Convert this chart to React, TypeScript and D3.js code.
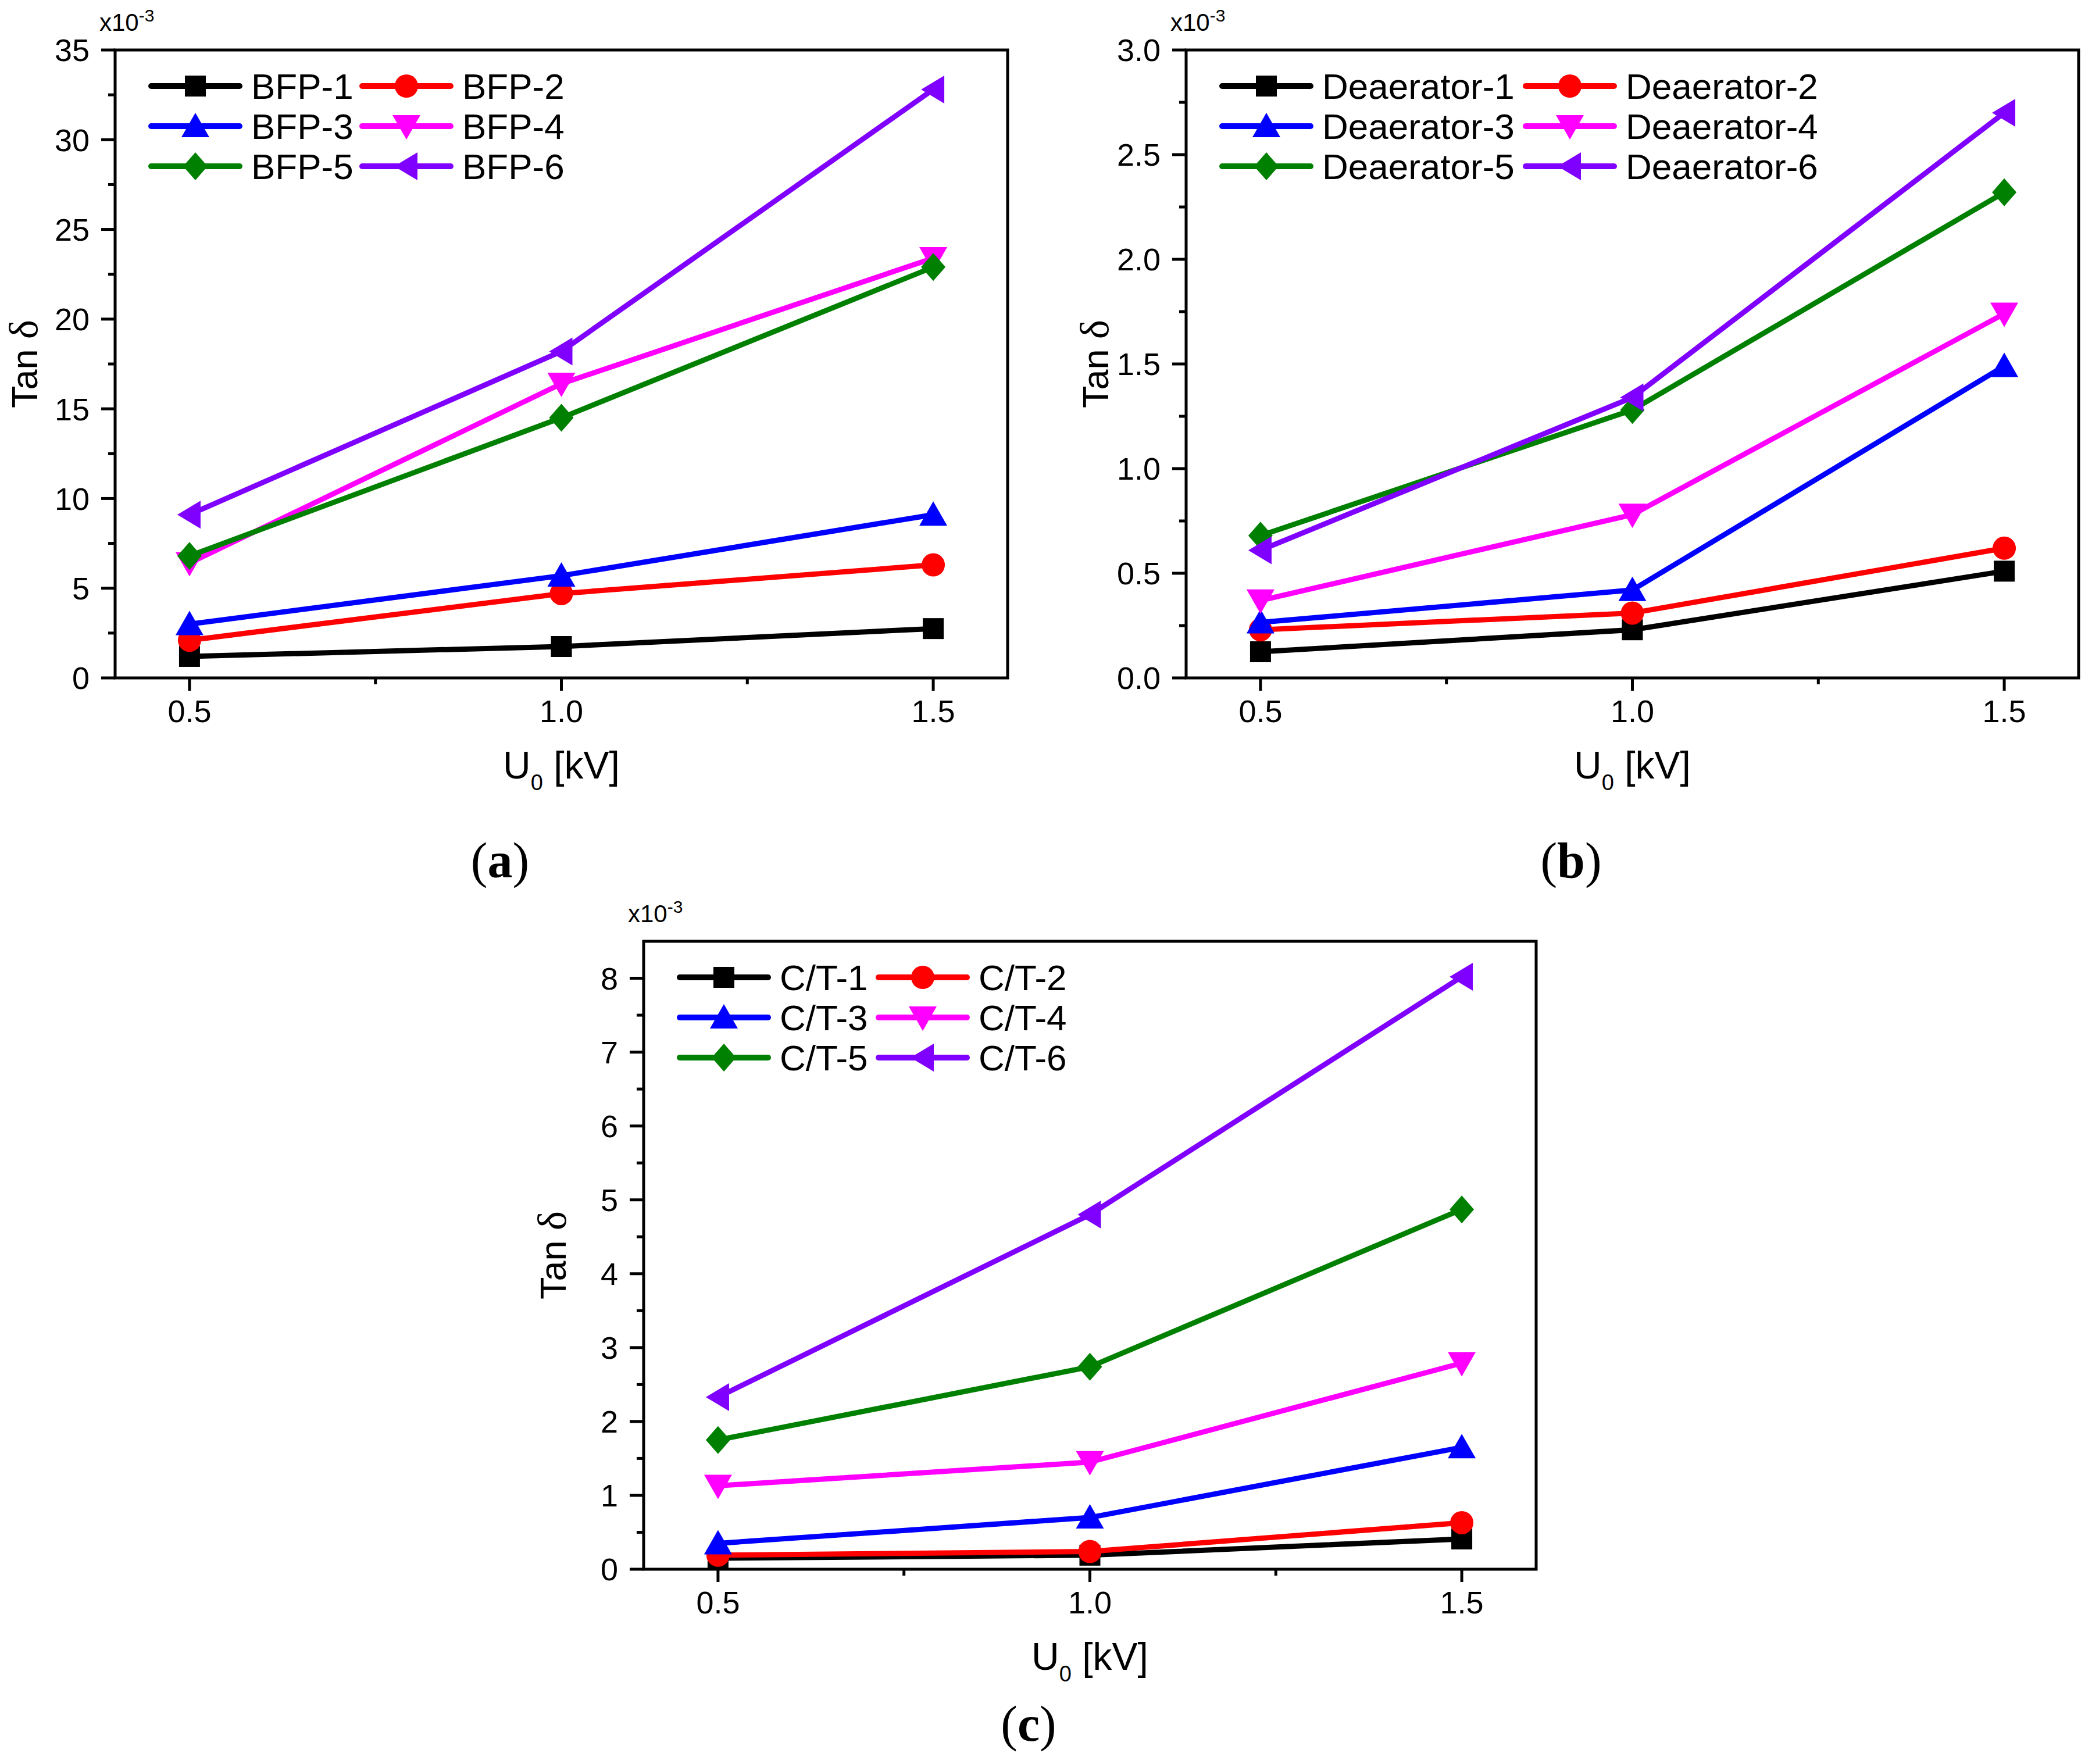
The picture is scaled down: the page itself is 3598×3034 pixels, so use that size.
import * as d3 from 'd3';

// shared x positions (kV)
const xValues = [0.5, 1.0, 1.5];
const xTicks = [0.5, 1.0, 1.5];

// (a) boiler feed pump cables
const bfpLabels = ['BFP-1', 'BFP-2', 'BFP-3', 'BFP-4', 'BFP-5', 'BFP-6'];
const bfpValues = [
    [1.2, 1.75, 2.75],
    [2.1, 4.7, 6.3],
    [3.0, 5.7, 9.1],
    [6.4, 16.4, 23.4],
    [6.8, 14.5, 22.9],
    [9.1, 18.2, 32.8],
];

// (b) deaerator cables
const deaLabels = ['Deaerator-1', 'Deaerator-2', 'Deaerator-3', 'Deaerator-4', 'Deaerator-5', 'Deaerator-6'];
const deaValues = [
    [0.125, 0.23, 0.51],
    [0.23, 0.31, 0.62],
    [0.265, 0.42, 1.49],
    [0.37, 0.78, 1.74],
    [0.68, 1.28, 2.32],
    [0.61, 1.34, 2.70],
];

// (c) C/T cables
const ctLabels = ['C/T-1', 'C/T-2', 'C/T-3', 'C/T-4', 'C/T-5', 'C/T-6'];
const ctValues = [
    [0.15, 0.19, 0.41],
    [0.19, 0.24, 0.63],
    [0.35, 0.70, 1.65],
    [1.13, 1.45, 2.79],
    [1.75, 2.74, 4.87],
    [2.33, 4.80, 8.02],
];

const colors = ['#000000', '#ff0000', '#0000ff', '#ff00ff', '#008000', '#8000ff'];
const markers = ['square', 'circle', 'up', 'down', 'diamond', 'left'];

const SANS = '"Liberation Sans", Arial, sans-serif';
const SERIF = '"Liberation Serif", "DejaVu Serif", serif';

function Marker({ kind, x, y, color }: { kind: string; x: number; y: number; color: string }) {
    const t = `translate(${x},${y})`;
    switch (kind) {
        case 'square':
            return <rect x={x - 18} y={y - 18} width={36} height={36} fill={color} />;
        case 'circle':
            return <circle cx={x} cy={y} r={20} fill={color} />;
        case 'up':
            return <path transform={t} d="M0,-23L24,19L-24,19Z" fill={color} />;
        case 'down':
            return <path transform={t} d="M0,23L24,-19L-24,-19Z" fill={color} />;
        case 'diamond':
            return <path transform={t} d="M0,-24L21,0L0,24L-21,0Z" fill={color} />;
        default:
            return <path transform={t} d="M-21,0L19,-24L19,24Z" fill={color} />;
    }
}

interface PanelProps {
    left: number;
    top: number;
    yMax: number;
    yStep: number;
    yFormat: string;
    labels: string[];
    values: number[][];
    col2: number;
    tag: string;
    tagDy: number;
}

const W = 1535;
const H = 1080;

function Panel({ left, top, yMax, yStep, yFormat, labels, values, col2, tag, tagDy }: PanelProps) {
    const x = d3.scaleLinear().domain([0.4, 1.6]).range([left, left + W]);
    const y = d3.scaleLinear().domain([0, yMax]).range([top + H, top]);
    const bottom = top + H;

    const majorY = d3.range(0, yMax + yStep / 2, yStep);
    const minorY = d3.range(yStep / 2, yMax, yStep);
    const minorX = [0.75, 1.25];
    const fmt = d3.format(yFormat);

    const line = d3.line<number>()
        .x((_, i) => x(xValues[i]))
        .y(d => y(d));

    const legendRows = [top + 62, top + 131, top + 200];

    return (
        <g>
            {/* series */}
            {values.map((vals, s) => (
                <g key={s}>
                    <path d={line(vals) ?? ''} fill="none" stroke={colors[s]} strokeWidth={9}
                        strokeLinejoin="round" strokeLinecap="round" />
                    {vals.map((v, i) => (
                        <Marker key={i} kind={markers[s]} x={x(xValues[i])} y={y(v)} color={colors[s]} />
                    ))}
                </g>
            ))}

            {/* frame */}
            <rect x={left} y={top} width={W} height={H} fill="none" stroke="#000" strokeWidth={5} />

            {/* y ticks */}
            {majorY.map(v => (
                <g key={`my${v}`}>
                    <line x1={left - 24} x2={left} y1={y(v)} y2={y(v)} stroke="#000" strokeWidth={5} />
                    <text x={left - 44} y={y(v)} dy="0.36em" textAnchor="end"
                        fontFamily={SANS} fontSize={54}>{fmt(v)}</text>
                </g>
            ))}
            {minorY.map(v => (
                <line key={`ny${v}`} x1={left - 12} x2={left} y1={y(v)} y2={y(v)} stroke="#000" strokeWidth={5} />
            ))}

            {/* x ticks */}
            {xTicks.map(v => (
                <g key={`mx${v}`}>
                    <line x1={x(v)} x2={x(v)} y1={bottom} y2={bottom + 22} stroke="#000" strokeWidth={5} />
                    <text x={x(v)} y={bottom + 76} textAnchor="middle"
                        fontFamily={SANS} fontSize={54}>{d3.format('.1f')(v)}</text>
                </g>
            ))}
            {minorX.map(v => (
                <line key={`nx${v}`} x1={x(v)} x2={x(v)} y1={bottom} y2={bottom + 11} stroke="#000" strokeWidth={5} />
            ))}

            {/* multiplier */}
            <text x={left - 27} y={top - 33} fontFamily={SANS} fontSize={42}>
                x10<tspan dy={-16} fontSize={30}>-3</tspan>
            </text>

            {/* axis titles */}
            <text x={left + W / 2} y={bottom + 173} textAnchor="middle" fontFamily={SANS} fontSize={66}>
                U<tspan fontSize={38} dy={20}>0</tspan><tspan dy={-20}> [kV]</tspan>
            </text>
            <text transform={`translate(${left - 134},${top + H / 2}) rotate(-90)`} textAnchor="middle"
                fontFamily={SANS} fontSize={63}>Tan <tspan fontFamily={SERIF} fontSize={70}>δ</tspan></text>

            {/* legend */}
            {labels.map((lab, s) => {
                const col = s % 2;
                const lx = left + 62 + col * col2;
                const ly = legendRows[Math.floor(s / 2)];
                return (
                    <g key={lab}>
                        <line x1={lx} x2={lx + 152} y1={ly} y2={ly} stroke={colors[s]} strokeWidth={10}
                            strokeLinecap="round" />
                        <Marker kind={markers[s]} x={lx + 76} y={ly} color={colors[s]} />
                        <text x={lx + 172} y={ly} dy="0.36em" fontFamily={SANS} fontSize={62}>{lab}</text>
                    </g>
                );
            })}

            {/* panel tag */}
            <text x={left + 662} y={bottom + tagDy} textAnchor="middle" fontFamily={SERIF} fontSize={86}>
                (<tspan fontWeight="bold">{tag}</tspan>)
            </text>
        </g>
    );
}

export default function App() {
    return (
        <svg width={3598} height={3034} viewBox="0 0 3598 3034"
            style={{ position: 'absolute', left: 0, top: 0, background: '#fff' }}>
            <rect width={3598} height={3034} fill="#fff" />
            <Panel left={198} top={86} yMax={35} yStep={5} yFormat="d"
                labels={bfpLabels} values={bfpValues} col2={363} tag="a" tagDy={343} />
            <Panel left={2040} top={86} yMax={3.0} yStep={0.5} yFormat=".1f"
                labels={deaLabels} values={deaValues} col2={522} tag="b" tagDy={343} />
            <Panel left={1107} top={1619} yMax={8.5} yStep={1} yFormat="d"
                labels={ctLabels} values={ctValues} col2={342} tag="c" tagDy={295} />
        </svg>
    );
}
